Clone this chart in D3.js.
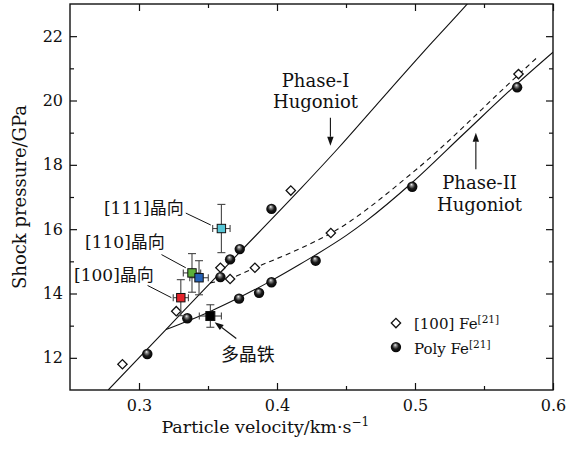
<!DOCTYPE html>
<html><head><meta charset="utf-8">
<script src="https://cdn.jsdelivr.net/npm/d3@7"></script>
<style>
body{margin:0;background:#fff}
svg{display:block}
text{font-family:"DejaVu Serif","Noto Sans CJK SC",serif;fill:#111}
</style>
</head><body><div id="chart"></div>
<script>
// ---------- data ----------
const xTicks = [0.3, 0.4, 0.5, 0.6];
const xMinor = [0.35, 0.45, 0.55];
const yTicks = [12, 14, 16, 18, 20, 22];
const yMinor = [13, 15, 17, 19, 21];

// [100] Fe (open diamonds)
const fe100U = [0.288, 0.327, 0.359, 0.366, 0.384, 0.410, 0.439, 0.575];
const fe100P = [11.80, 13.45, 14.80, 14.45, 14.80, 17.20, 15.88, 20.82];
// Poly Fe (balls)
const polyU = [0.306, 0.335, 0.359, 0.366, 0.373, 0.396, 0.3725, 0.387, 0.396, 0.428, 0.498, 0.574];
const polyP = [12.12, 13.23, 14.51, 15.06, 15.38, 16.63, 13.84, 14.02, 14.35, 15.02, 17.32, 20.41];
// Squares with error bars
const sqNames = ["[111]", "[110]", "[110]b", "[100]", "poly"];
const sqU = [0.3597, 0.3384, 0.3435, 0.3303, 0.3517];
const sqP = [16.02, 14.64, 14.49, 13.87, 13.30];
const sqErrU = [0.0063, 0.0063, 0.0067, 0.0055, 0.008];
const sqErrP = [0.75, 0.60, 0.53, 0.56, 0.35];
const sqColors = ["#57c6d6", "#5cb03a", "#2462b8", "#e4232a", "#000000"];

// Hugoniot curves
const phase1U = [0.2777, 0.3195, 0.366, 0.4163, 0.444, 0.4718, 0.5127, 0.5368, 0.545];
const phase1P = [11.0, 12.88, 14.97, 17.22, 18.5, 19.85, 21.82, 22.95, 23.35];
const phase2U = [0.3195, 0.335, 0.352, 0.373, 0.396, 0.4163, 0.428, 0.45, 0.4645, 0.498, 0.535, 0.573, 0.6];
const phase2P = [12.88, 13.14, 13.45, 13.88, 14.40, 14.90, 15.20, 15.80, 16.25, 17.45, 18.95, 20.48, 21.50];
const dashU = [0.3515, 0.366, 0.384, 0.4163, 0.439, 0.4983, 0.5749, 0.5893];
const dashP = [14.33, 14.47, 14.80, 15.39, 15.87, 17.76, 20.80, 21.37];

// ---------- layout ----------
const W = 584, H = 450;
const m = {l: 70, r: 31, t: 4, b: 60};
const iw = W - m.l - m.r, ih = H - m.t - m.b;

const svg = d3.select("#chart").append("svg").attr("width", W).attr("height", H);
const defs = svg.append("defs");
const grad = defs.append("radialGradient").attr("id", "ball")
  .attr("cx", "50%").attr("cy", "50%").attr("r", "55%").attr("fx", "42%").attr("fy", "28%");
grad.append("stop").attr("offset", "0%").attr("stop-color", "#f4f4f4");
grad.append("stop").attr("offset", "22%").attr("stop-color", "#8a8a8a");
grad.append("stop").attr("offset", "55%").attr("stop-color", "#1a1a1a");
grad.append("stop").attr("offset", "100%").attr("stop-color", "#000");
defs.append("clipPath").attr("id", "clip").append("rect").attr("width", iw).attr("height", ih);

const g = svg.append("g").attr("transform", `translate(${m.l},${m.t})`);
const x = d3.scaleLinear().domain([0.25, 0.6]).range([0, iw]);
const y = d3.scaleLinear().domain([11, 23]).range([ih, 0]);

// axes (ticks inward on all four sides)
function styleAxis(sel) {
  sel.select(".domain").remove();
  sel.selectAll("line").attr("stroke", "#111").attr("stroke-width", 1.2);
  sel.selectAll("text").attr("font-size", 16).attr("fill", "#111");
}
g.append("g").attr("transform", `translate(0,${ih})`)
  .call(d3.axisBottom(x).tickValues(xTicks).tickSize(-7).tickPadding(10).tickFormat(d3.format(".1f"))).call(styleAxis);
g.append("g").attr("transform", `translate(0,${ih})`)
  .call(d3.axisBottom(x).tickValues(xMinor).tickSize(-4).tickFormat("")).call(styleAxis);
g.append("g").call(d3.axisTop(x).tickValues(xTicks).tickSize(-7).tickFormat("")).call(styleAxis);
g.append("g").call(d3.axisTop(x).tickValues(xMinor).tickSize(-4).tickFormat("")).call(styleAxis);
g.append("g")
  .call(d3.axisLeft(y).tickValues(yTicks).tickSize(-7).tickPadding(7).tickFormat(d3.format("d"))).call(styleAxis);
g.append("g").call(d3.axisLeft(y).tickValues(yMinor).tickSize(-4).tickFormat("")).call(styleAxis);
g.append("g").attr("transform", `translate(${iw},0)`)
  .call(d3.axisRight(y).tickValues(yTicks).tickSize(-7).tickFormat("")).call(styleAxis);
g.append("g").attr("transform", `translate(${iw},0)`)
  .call(d3.axisRight(y).tickValues(yMinor).tickSize(-4).tickFormat("")).call(styleAxis);

g.append("rect").attr("width", iw).attr("height", ih).attr("fill", "none")
  .attr("stroke", "#111").attr("stroke-width", 1.4);

// axis titles
const xt = svg.append("text").attr("x", m.l + x(0.3915)).attr("y", 433)
  .attr("text-anchor", "middle").attr("font-size", 17.5);
xt.append("tspan").text("Particle velocity/km·s");
xt.append("tspan").attr("font-size", 12).attr("dy", -7).text("−1");
svg.append("text").attr("transform", `translate(26,${m.t + y(17.0)})rotate(-90)`)
  .attr("text-anchor", "middle").attr("font-size", 18).text("Shock pressure/GPa");

// curves
const plot = g.append("g").attr("clip-path", "url(#clip)");
const line = d3.line().x(d => x(d[0])).y(d => y(d[1])).curve(d3.curveMonotoneX);
plot.append("path").datum(d3.zip(phase1U, phase1P)).attr("d", line)
  .attr("fill", "none").attr("stroke", "#111").attr("stroke-width", 1.1);
plot.append("path").datum(d3.zip(phase2U, phase2P)).attr("d", line)
  .attr("fill", "none").attr("stroke", "#111").attr("stroke-width", 1.1);
plot.append("path").datum(d3.zip(dashU, dashP)).attr("d", line)
  .attr("fill", "none").attr("stroke", "#111").attr("stroke-width", 1.1).attr("stroke-dasharray", "5,4");

// markers
function drawDiamond(sel, cx, cy) {
  sel.append("rect").attr("x", -3.3).attr("y", -3.3).attr("width", 6.6).attr("height", 6.6)
    .attr("transform", `translate(${cx},${cy}) rotate(45)`)
    .attr("fill", "#fff").attr("stroke", "#111").attr("stroke-width", 1.3);
}
d3.zip(fe100U, fe100P).forEach(d => drawDiamond(plot, x(d[0]), y(d[1])));
plot.selectAll(".ball").data(d3.zip(polyU, polyP)).join("circle")
  .attr("cx", d => x(d[0])).attr("cy", d => y(d[1])).attr("r", 5.2)
  .attr("fill", "url(#ball)");

// error bars + squares
const eb = plot.append("g").attr("stroke", "#444").attr("stroke-width", 1.1);
sqU.forEach((u, i) => {
  const cx = x(u), cy = y(sqP[i]);
  const x0 = x(u - sqErrU[i]), x1 = x(u + sqErrU[i]);
  const y0 = y(sqP[i] - sqErrP[i]), y1 = y(sqP[i] + sqErrP[i]);
  eb.append("line").attr("x1", cx).attr("x2", cx).attr("y1", y0).attr("y2", y1);
  eb.append("line").attr("x1", cx - 4).attr("x2", cx + 4).attr("y1", y0).attr("y2", y0);
  eb.append("line").attr("x1", cx - 4).attr("x2", cx + 4).attr("y1", y1).attr("y2", y1);
  eb.append("line").attr("x1", x0).attr("x2", x1).attr("y1", cy).attr("y2", cy);
  eb.append("line").attr("x1", x0).attr("x2", x0).attr("y1", cy - 3.5).attr("y2", cy + 3.5);
  eb.append("line").attr("x1", x1).attr("x2", x1).attr("y1", cy - 3.5).attr("y2", cy + 3.5);
});
sqU.forEach((u, i) => {
  const s = i === 4 ? 9 : 8.4;
  plot.append("rect").attr("x", x(u) - s / 2).attr("y", y(sqP[i]) - s / 2)
    .attr("width", s).attr("height", s).attr("fill", sqColors[i])
    .attr("stroke", "#111").attr("stroke-width", 1);
});

// annotations
const ann = g.append("g");
function leader(u1, p1, u2, p2) {
  ann.append("line").attr("x1", x(u1)).attr("y1", y(p1)).attr("x2", x(u2)).attr("y2", y(p2))
    .attr("stroke", "#111").attr("stroke-width", 1);
}
function label(u, p, str, anchor, size) {
  ann.append("text").attr("x", x(u)).attr("y", y(p)).attr("text-anchor", anchor)
    .attr("font-size", size).text(str);
}
function arrow(u1, p1, u2, p2) {
  const X1 = x(u1), Y1 = y(p1), X2 = x(u2), Y2 = y(p2);
  const a = Math.atan2(Y2 - Y1, X2 - X1), L = 9, w = 3.2;
  const bx = X2 - L * Math.cos(a), by = Y2 - L * Math.sin(a);
  ann.append("line").attr("x1", X1).attr("y1", Y1).attr("x2", bx).attr("y2", by)
    .attr("stroke", "#111").attr("stroke-width", 1.1);
  ann.append("path").attr("d", `M${X2},${Y2}L${bx - w * Math.sin(a)},${by + w * Math.cos(a)}L${bx + w * Math.sin(a)},${by - w * Math.cos(a)}Z`)
    .attr("fill", "#111");
}
label(0.3324, 16.48, "[111]晶向", "end", 17);
leader(0.3339, 16.50, 0.3520, 16.13);
label(0.3187, 15.40, "[110]晶向", "end", 17);
leader(0.3163, 15.21, 0.3339, 14.80);
label(0.3107, 14.39, "[100]晶向", "end", 17);
leader(0.3062, 14.25, 0.3235, 13.87);
label(0.3789, 11.90, "多晶铁", "middle", 18);
arrow(0.3705, 12.60, 0.3548, 13.11);

label(0.4279, 20.41, "Phase-I", "middle", 18);
label(0.4279, 19.77, "Hugoniot", "middle", 18);
arrow(0.4387, 19.46, 0.4387, 18.59);
label(0.5468, 17.24, "Phase-II", "middle", 18);
label(0.5468, 16.57, "Hugoniot", "middle", 18);
arrow(0.5441, 17.86, 0.5441, 19.0);

// legend
const lg = g.append("g").attr("transform", `translate(${x(0.4862)},${y(13.08)})`);
drawDiamond(lg, 0, 0);
const t1 = lg.append("text").attr("x", 18).attr("y", 5.5).attr("font-size", 15);
t1.append("tspan").text("[100] Fe");
t1.append("tspan").attr("font-size", 10.5).attr("dy", -6).text("[21]");
lg.append("circle").attr("cx", 0).attr("cy", 24).attr("r", 5.2).attr("fill", "url(#ball)");
const t2 = lg.append("text").attr("x", 18).attr("y", 30.5).attr("font-size", 15);
t2.append("tspan").text("Poly Fe");
t2.append("tspan").attr("font-size", 10.5).attr("dy", -6).text("[21]");
</script></body></html>
